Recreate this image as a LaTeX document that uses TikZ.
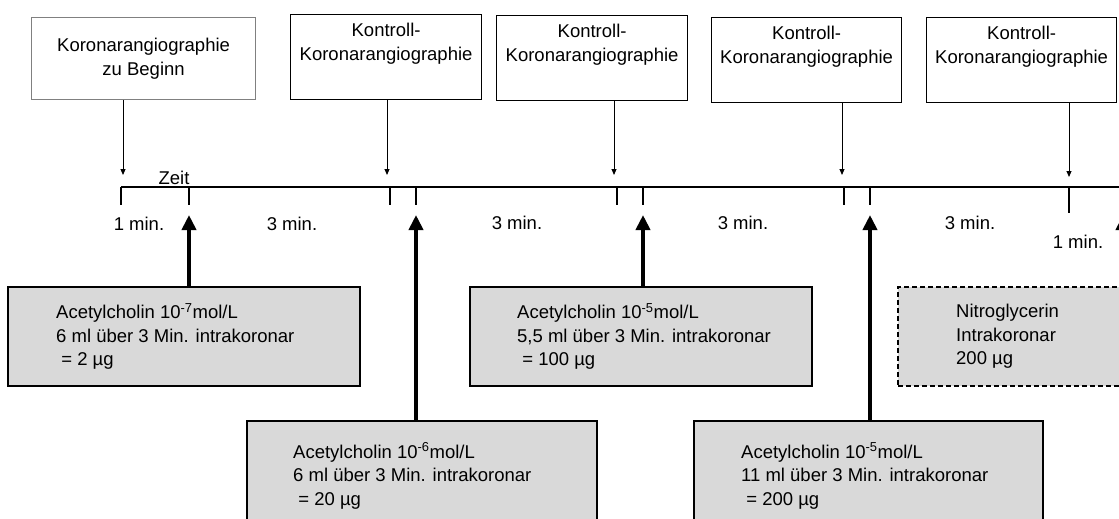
\documentclass[tikz,border=0pt]{standalone}
\usepackage{fontspec}
\setmainfont{Liberation Sans}
\usetikzlibrary{arrows.meta}
\begin{document}
\begin{tikzpicture}[x=1pt,y=-1pt,
  every node/.style={font=\fontsize{18.5}{23.5}\selectfont},
  topbox/.style={draw=black, line width=1.2pt, align=center, inner sep=0pt, anchor=north west},
  dosebox/.style={draw=black, fill=black!15, line width=1.8pt, inner sep=0pt, anchor=north west},
  dosetext/.style={align=left, inner sep=0pt, anchor=west},
  lbl/.style={inner sep=0pt},
  smallarrow/.style={line width=1pt, -{Triangle[width=5pt,length=6pt]}},
  bigarrow/.style={line width=4pt, -{Triangle[width=14pt,length=15pt]}},
  tickline/.style={line width=1.3pt}
]
\useasboundingbox (0,0) rectangle (1119,519);

% top boxes
\node[topbox, draw=black!50, minimum width=224pt, minimum height=82pt] (b1) at (31,17) {Koronarangiographie\\zu Beginn};
\node[topbox, minimum width=191pt, minimum height=85pt] (b2) at (290,14) {Kontroll-\\Koronarangiographie\\\strut};
\node[topbox, minimum width=191pt, minimum height=85pt] (b3) at (496,15) {Kontroll-\\Koronarangiographie\\\strut};
\node[topbox, minimum width=190pt, minimum height=85pt] (b4) at (711,17) {Kontroll-\\Koronarangiographie\\\strut};
\node[topbox, minimum width=190pt, minimum height=85pt] (b5) at (926,17) {Kontroll-\\Koronarangiographie\\\strut};

% timeline coordinates
\coordinate (t0) at (121,187);
\coordinate (tend) at (1125,187);
\coordinate (kb) at (0,205);
\coordinate (kb2) at (0,213);
\foreach \n/\x in {k1/121,k2/189,k3/390,k4/416,k5/617,k6/643,k7/844,k8/870,k9/1069}
  \coordinate (\n) at (\x,187);

% arrow tips
\coordinate (a1) at (123,175);
\coordinate (a2) at (387,175);
\coordinate (a3) at (614,175);
\coordinate (a4) at (842,175);
\coordinate (a5) at (1069,177);
\coordinate (u1) at (189,215);
\coordinate (u2) at (416,215);
\coordinate (u3) at (643,215);
\coordinate (u4) at (870,215);
\coordinate (u5) at (1123,215);

% timeline
\draw[line width=1.5pt] (t0) -- (tend);
\foreach \n in {k1,k2,k3,k4,k5,k6,k7,k8}
  \draw[tickline] (\n) -- (\n |- kb);
\draw[tickline] (k9) -- (k9 |- kb2);

% labels
\node[lbl] (zeit) at (174,178) {Zeit};
\node[lbl] (m1) at (139,224) {1 min.};
\node[lbl] (m2) at (292,224) {3 min.};
\node[lbl] (m3) at (517,223) {3 min.};
\node[lbl] (m4) at (743,223) {3 min.};
\node[lbl] (m5) at (970,223) {3 min.};
\node[lbl] (m6) at (1078,242) {1 min.};

% thin arrows from top boxes
\draw[smallarrow] (b1.south -| a1) -- (a1);
\draw[smallarrow] (b2.south -| a2) -- (a2);
\draw[smallarrow] (b3.south -| a3) -- (a3);
\draw[smallarrow] (b4.south -| a4) -- (a4);
\draw[smallarrow] (b5.south -| a5) -- (a5);

% dose boxes
\node[dosebox, minimum width=352pt, minimum height=99pt] (g1) at (7,286) {};
\node[dosetext] (g1t) at ([xshift=49pt]g1.west) {Acetylcholin 10\textsuperscript{-7}mol/L\\6 ml über 3 Min. intrakoronar\\\hspace*{0.28em}= 2 µg};

\node[dosebox, minimum width=350pt, minimum height=110pt] (g2) at (246,420) {};
\node[dosetext] (g2t) at ([xshift=47pt]g2.west) {Acetylcholin 10\textsuperscript{-6}mol/L\\6 ml über 3 Min. intrakoronar\\\hspace*{0.28em}= 20 µg};

\node[dosebox, minimum width=342pt, minimum height=99pt] (g3) at (469,286) {};
\node[dosetext] (g3t) at ([xshift=48pt]g3.west) {Acetylcholin 10\textsuperscript{-5}mol/L\\5,5 ml über 3 Min. intrakoronar\\\hspace*{0.28em}= 100 µg};

\node[dosebox, minimum width=349pt, minimum height=110pt] (g4) at (693,420) {};
\node[dosetext] (g4t) at ([xshift=48pt]g4.west) {Acetylcholin 10\textsuperscript{-5}mol/L\\11 ml über 3 Min. intrakoronar\\\hspace*{0.28em}= 200 µg};

\node[dosebox, dash pattern=on 5pt off 3pt, minimum width=260pt, minimum height=99pt] (g5) at (897,286) {};
\node[dosetext] (g5t) at ([xshift=59pt]g5.west) {Nitroglycerin\\Intrakoronar\\200 µg};

% thick arrows
\draw[bigarrow] (g1.north -| u1) -- (u1);
\draw[bigarrow] (g2.north -| u2) -- (u2);
\draw[bigarrow] (g3.north -| u3) -- (u3);
\draw[bigarrow] (g4.north -| u4) -- (u4);
\draw[bigarrow] (g5.north -| u5) -- (u5);
\end{tikzpicture}
\end{document}
